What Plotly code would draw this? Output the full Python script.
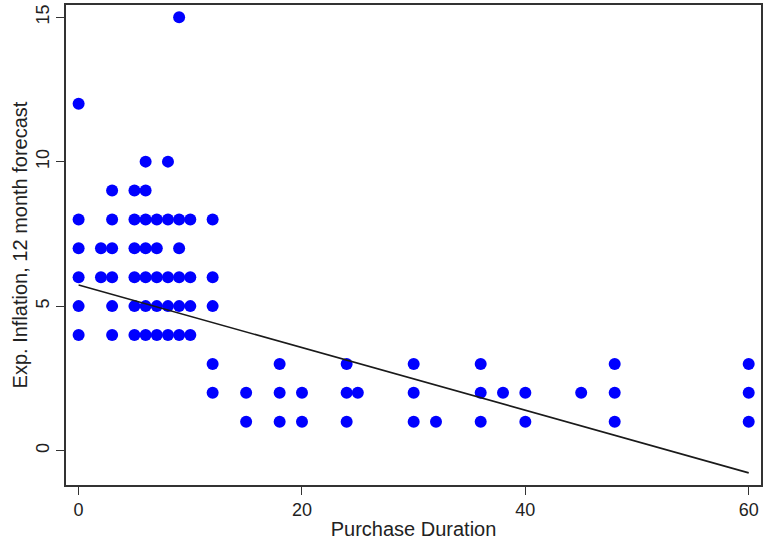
import plotly.graph_objects as go

# Expected inflation levels (y) and purchase durations (x) observed at each level
rows_y = [15, 12, 10, 9, 8, 7, 6, 5, 4, 3, 2, 1]
rows_x = [
    [9],
    [0],
    [6, 8],
    [3, 5, 6],
    [0, 3, 5, 6, 7, 8, 9, 10, 12],
    [0, 2, 3, 5, 6, 7, 9],
    [0, 2, 3, 5, 6, 7, 8, 9, 10, 12],
    [0, 3, 5, 6, 7, 8, 9, 10, 12],
    [0, 3, 5, 6, 7, 8, 9, 10],
    [12, 18, 24, 30, 36, 48, 60],
    [12, 15, 18, 20, 24, 25, 30, 36, 38, 40, 45, 48, 60],
    [15, 18, 20, 24, 30, 32, 36, 40, 48, 60],
]

# Fitted line endpoints
fit_x = [0, 60]
fit_y = [5.73, -0.77]

x_ticks = [0, 20, 40, 60]
y_ticks = [0, 5, 10, 15]

xs, ys = [], []
for yv, xl in zip(rows_y, rows_x):
    for xv in xl:
        xs.append(xv)
        ys.append(yv)

fig = go.Figure()
fig.add_trace(go.Scatter(
    x=xs, y=ys, mode="markers",
    marker=dict(color="#0000FF", size=12, line=dict(width=0)),
    showlegend=False, hoverinfo="skip",
))
fig.add_trace(go.Scatter(
    x=fit_x, y=fit_y, mode="lines",
    line=dict(color="#1a1a1a", width=1.6),
    showlegend=False, hoverinfo="skip",
))

font_family = "Liberation Sans, Arial, sans-serif"
axis_common = dict(
    showgrid=False, zeroline=False,
    showline=True, linecolor="#333333", linewidth=1.6, mirror=True,
    ticks="outside", ticklen=8, tickwidth=1.2, tickcolor="#333333",
    tickfont=dict(family=font_family, size=18, color="#222222"),
)

fig.update_layout(
    width=764, height=545,
    margin=dict(l=66, r=1, t=5, b=60),
    paper_bgcolor="white", plot_bgcolor="white",
    font=dict(family=font_family, color="#222222"),
    xaxis=dict(
        range=[-1.13, 61.1], tickvals=x_ticks,
        title=dict(text="Purchase Duration", font=dict(size=20, family=font_family, color="#222222"), standoff=3),
        **axis_common,
    ),
    yaxis=dict(
        range=[-1.19, 15.42], tickvals=y_ticks, tickangle=-90,
        title=dict(text="Exp. Inflation, 12 month forecast", font=dict(size=20, family=font_family, color="#222222"), standoff=0),
        **axis_common,
    ),
)

fig.write_html("out.html")
